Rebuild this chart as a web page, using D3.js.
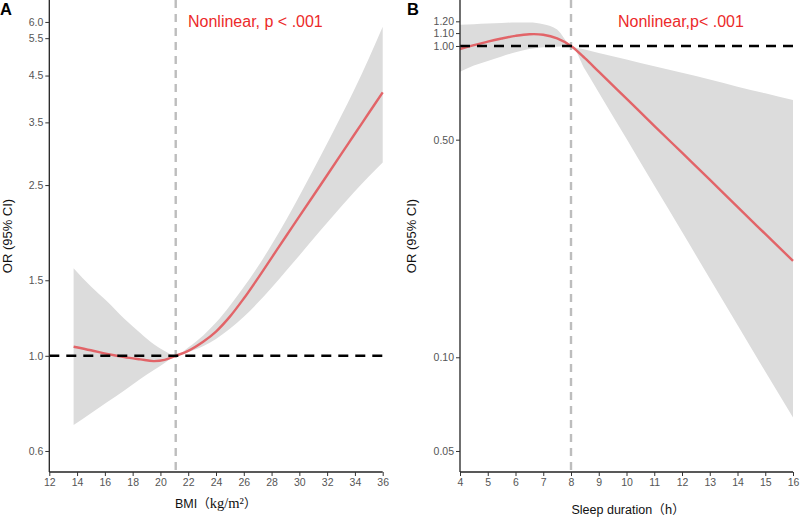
<!DOCTYPE html>
<html>
<head>
<meta charset="utf-8">
<script src="https://cdn.jsdelivr.net/npm/d3@7"></script>
<style>
  html, body { margin: 0; padding: 0; background: #fff; }
  svg { display: block; }
  text { font-family: "Liberation Sans", Arial, Helvetica, sans-serif; }
</style>
</head>
<body>
<svg id="chart" width="800" height="517"></svg>
<script>
// ---------- Panel A: BMI ----------
const bmiX      = [13.75, 15, 16.15, 17.4, 18.55, 19.5, 20.3, 21.1, 22, 23.1, 24, 25, 26, 26.9, 28, 29.1, 30, 31.5, 33, 33.9, 35, 36];
const bmiOR     = [1.05, 1.03, 1.01, 0.993, 0.981, 0.972, 0.978, 1.0, 1.027, 1.080, 1.139, 1.234, 1.360, 1.497, 1.692, 1.912, 2.113, 2.494, 2.948, 3.258, 3.680, 4.112];
const bmiLower  = [0.69, 0.735, 0.779, 0.830, 0.883, 0.925, 0.962, 1.0, 1.020, 1.054, 1.095, 1.156, 1.233, 1.318, 1.441, 1.584, 1.714, 1.956, 2.226, 2.398, 2.619, 2.823];
const bmiUpper  = [1.60, 1.45, 1.34, 1.22, 1.13, 1.065, 1.026, 1.0, 1.046, 1.117, 1.195, 1.308, 1.446, 1.593, 1.814, 2.088, 2.358, 2.909, 3.616, 4.139, 4.934, 5.850];
const bmiXTicks = [12, 14, 16, 18, 20, 22, 24, 26, 28, 30, 32, 34, 36];
const bmiYTicks = [0.6, 1.0, 1.5, 2.5, 3.5, 4.5, 5.5, 6.0];
const bmiKnot   = 21.1;

// ---------- Panel B: Sleep duration ----------
const sleepX     = [4, 4.5, 5, 5.5, 6, 6.5, 7, 7.5, 8, 8.5, 9, 10, 11, 12, 13, 14, 15, 16];
const sleepOR    = [0.978, 1.006, 1.033, 1.057, 1.078, 1.091, 1.087, 1.058, 1.0, 0.914, 0.827, 0.677, 0.554, 0.454, 0.372, 0.304, 0.249, 0.204];
const sleepLower = [0.827, 0.865, 0.895, 0.925, 0.955, 0.978, 0.99, 0.995, 1.0, 0.842, 0.709, 0.503, 0.356, 0.253, 0.179, 0.127, 0.090, 0.064];
const sleepUpper = [1.17, 1.175, 1.18, 1.185, 1.19, 1.19, 1.175, 1.13, 1.0, 0.975, 0.95, 0.905, 0.86, 0.82, 0.78, 0.74, 0.705, 0.67];
const sleepXTicks = [4, 5, 6, 7, 8, 9, 10, 11, 12, 13, 14, 15, 16];
const sleepYTicks = [0.05, 0.10, 0.50, 1.00, 1.10, 1.20];
const sleepKnot   = 8;

const svg = d3.select("#chart");

function drawPanel(o) {
  const x = d3.scaleLinear().domain(o.xDomain).range([o.left, o.right]);
  const y = d3.scaleLog().domain(o.yDomain).range([o.bottom, o.top]);
  const g = svg.append("g");
  const rows = o.xs.map((v, i) => ({x: v, or: o.or[i], lo: o.lo[i], hi: o.hi[i]}));

  // CI band
  g.append("path")
    .datum(rows)
    .attr("fill", "#dcdcdc")
    .attr("d", d3.area().curve(d3.curveMonotoneX)
      .x(d => x(d.x)).y0(d => y(d.lo)).y1(d => y(d.hi)));

  // vertical reference (knot)
  g.append("line")
    .attr("x1", x(o.knot)).attr("x2", x(o.knot))
    .attr("y1", o.top).attr("y2", o.bottom)
    .attr("stroke", "#bdbdbd").attr("stroke-width", 2.4)
    .attr("stroke-dasharray", "8,6");

  // OR curve
  g.append("path")
    .datum(rows)
    .attr("fill", "none")
    .attr("stroke", "#e26468")
    .attr("stroke-width", 2.4)
    .attr("d", d3.line().curve(d3.curveCatmullRom.alpha(0.5)).x(d => x(d.x)).y(d => y(d.or)));

  // horizontal reference at OR = 1
  g.append("line")
    .attr("x1", o.left).attr("x2", o.right)
    .attr("y1", y(1)).attr("y2", y(1))
    .attr("stroke", "#000").attr("stroke-width", 2.6)
    .attr("stroke-dasharray", "10,7");

  // axes
  const xAxis = d3.axisBottom(x).tickValues(o.xTicks).tickSize(4).tickPadding(3).tickFormat(d3.format("d"));
  const yAxis = d3.axisLeft(y).tickValues(o.yTicks).tickSize(4).tickPadding(2).tickFormat(d3.format(o.yFmt));

  const gx = g.append("g").attr("transform", `translate(0,${o.bottom})`).call(xAxis);
  const gy = g.append("g").attr("transform", `translate(${o.left},0)`).call(yAxis);
  [gx, gy].forEach(a => {
    a.select(".domain").attr("stroke", "#222").attr("stroke-width", 1.3);
    a.selectAll(".tick line").attr("stroke", "#333").attr("stroke-width", 1);
    a.selectAll(".tick text").attr("fill", "#555").attr("font-size", "10.5px")
      .attr("font-family", "'Liberation Sans', Arial, sans-serif");
  });
  gy.select(".domain").attr("d", `M0,${o.top}V${o.bottom}`);
  gx.select(".domain").attr("d", `M${o.left},0H${o.right}`);

  // y title
  g.append("text")
    .attr("transform", `translate(${o.yTitleX},${o.yTitleY}) rotate(-90)`)
    .attr("text-anchor", "middle")
    .attr("font-size", "13px").attr("fill", "#111")
    .text("OR (95% CI)");

  // annotation
  g.append("text")
    .attr("x", o.annX).attr("y", 27)
    .attr("font-size", "16px").attr("fill", "#ec2a2a")
    .text(o.ann);

  // panel letter
  g.append("text")
    .attr("x", o.letterX).attr("y", 15)
    .attr("font-size", "16.5px").attr("font-weight", "bold").attr("fill", "#000")
    .text(o.letter);
  return g;
}

drawPanel({
  xs: bmiX, or: bmiOR, lo: bmiLower, hi: bmiUpper,
  xDomain: [12, 36], yDomain: [0.536, 6.75],
  left: 49.3, right: 382.7, top: 0, bottom: 472,
  xTicks: bmiXTicks, yTicks: bmiYTicks, yFmt: ".1f",
  knot: bmiKnot, yTitleX: 12, yTitleY: 236,
  annX: 188, ann: "Nonlinear, p < .001",
  letterX: 0, letter: "A"
});

drawPanel({
  xs: sleepX, or: sleepOR, lo: sleepLower, hi: sleepUpper,
  xDomain: [4, 16], yDomain: [0.0428, 1.405],
  left: 460, right: 793, top: 0, bottom: 472,
  xTicks: sleepXTicks, yTicks: sleepYTicks, yFmt: ".2f",
  knot: sleepKnot, yTitleX: 416, yTitleY: 236,
  annX: 618, ann: "Nonlinear,p< .001",
  letterX: 407, letter: "B"
});

// x titles
const tA = svg.append("text").attr("x", 175).attr("y", 507.5).attr("font-size", "12.5px").attr("fill", "#111");
tA.append("tspan").text("BMI");
tA.append("tspan").attr("font-family", "'Noto Sans CJK SC', sans-serif").text("（");
tA.append("tspan").attr("font-family", "'Liberation Serif', 'Times New Roman', serif").attr("font-size", "14.5px").text("kg/m²");
tA.append("tspan").attr("font-family", "'Noto Sans CJK SC', sans-serif").text("）");

const tB = svg.append("text").attr("x", 571.5).attr("y", 514).attr("font-size", "12.5px").attr("fill", "#111");
tB.append("tspan").text("Sleep duration");
tB.append("tspan").attr("font-family", "'Noto Sans CJK SC', sans-serif").text("（h）");
</script>
</body>
</html>
